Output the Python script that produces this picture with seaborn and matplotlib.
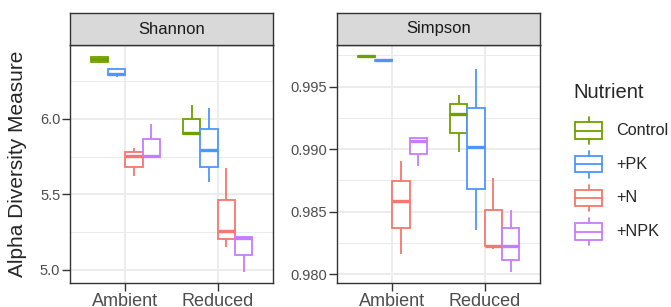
import numpy as np
import pandas as pd
import matplotlib
matplotlib.use("Agg")
import matplotlib.pyplot as plt
from matplotlib.patches import Rectangle
from matplotlib.ticker import MultipleLocator, FormatStrFormatter
import seaborn as sns

# --- data (five-number summaries) ---
nutrients = ["Control", "+PK", "+N", "+NPK"]
treatments = ["Ambient", "Reduced"]
measures = ["Shannon", "Simpson"]
colors = ["#70A000", "#4D96FF", "#F8766D", "#C77CFF"]

shannon_ambient = [
    [6.371, 6.378, 6.394, 6.409, 6.418],
    [6.276, 6.291, 6.300, 6.331, 6.338],
    [5.618, 5.683, 5.751, 5.780, 5.809],
    [5.745, 5.748, 5.756, 5.863, 5.965],
]
shannon_reduced = [
    [5.900, 5.902, 5.907, 6.000, 6.093],
    [5.582, 5.683, 5.793, 5.931, 6.071],
    [5.149, 5.205, 5.258, 5.465, 5.671],
    [4.983, 5.096, 5.213, 5.218, 5.220],
]
simpson_ambient = [
    [0.99739, 0.99741, 0.99743, 0.99745, 0.99747],
    [0.99706, 0.99709, 0.99711, 0.99713, 0.99716],
    [0.98160, 0.98367, 0.98585, 0.98744, 0.98904],
    [0.98862, 0.98962, 0.99069, 0.99090, 0.99092],
]
simpson_reduced = [
    [0.98978, 0.99127, 0.99281, 0.99361, 0.99436],
    [0.98356, 0.98681, 0.99021, 0.99329, 0.99644],
    [0.98202, 0.98222, 0.98228, 0.98511, 0.98771],
    [0.98016, 0.98117, 0.98223, 0.98367, 0.98511],
]

values = {
    ("Shannon", "Ambient"): shannon_ambient,
    ("Shannon", "Reduced"): shannon_reduced,
    ("Simpson", "Ambient"): simpson_ambient,
    ("Simpson", "Reduced"): simpson_reduced,
}
rows = []
for (m, t), groups in values.items():
    for nut, vals in zip(nutrients, groups):
        for v in vals:
            rows.append({"Measure": m, "Treatment": t, "Nutrient": nut, "value": v})
df = pd.DataFrame(rows)

# --- style ---
sns.set_style("white")
plt.rcParams["font.family"] = ["Liberation Sans", "DejaVu Sans"]

W, H = 671, 307
fig = plt.figure(figsize=(W / 100, H / 100), dpi=100)


def rect(l, t, r, b):
    return [l / W, 1 - b / H, (r - l) / W, (b - t) / H]


panels = [(70, 273), (337, 540)]
top, strip_top, bottom = 45, 13, 283
grid_col = "#EBEBEB"
dark = "#333333"

for measure, (l, r) in zip(measures, panels):
    ax = fig.add_axes(rect(l, top, r, bottom))
    sub = df[df["Measure"] == measure]
    sns.boxplot(data=sub, x="Treatment", y="value", hue="Nutrient",
                order=treatments, hue_order=nutrients, palette=colors,
                width=0.75, gap=0, linewidth=1.3, showcaps=False,
                medianprops={"linewidth": 2.4}, legend=False, ax=ax)
    for cont, c in zip(ax.containers, colors):
        for b in cont.boxes:
            b.set_facecolor("white")
            b.set_edgecolor(c)
        for ln in list(cont.medians) + list(cont.whiskers):
            ln.set_color(c)

    lo, hi = sub["value"].min(), sub["value"].max()
    pad = (hi - lo) * 0.05
    ax.set_ylim(lo - pad, hi + pad)
    ax.set_xlim(-0.6, 1.6)
    if measure == "Shannon":
        ax.yaxis.set_major_locator(MultipleLocator(0.5))
        ax.yaxis.set_minor_locator(MultipleLocator(0.25))
        ax.yaxis.set_major_formatter(FormatStrFormatter("%.1f"))
    else:
        ax.yaxis.set_major_locator(MultipleLocator(0.005))
        ax.yaxis.set_minor_locator(MultipleLocator(0.0025))
        ax.yaxis.set_major_formatter(FormatStrFormatter("%.3f"))

    ax.set_axisbelow(True)
    ax.grid(True, which="major", color=grid_col, linewidth=1.3)
    ax.grid(True, which="minor", axis="y", color=grid_col, linewidth=0.7)
    for s in ax.spines.values():
        s.set_color(dark)
        s.set_linewidth(1.0)
    ax.tick_params(axis="both", which="major", direction="out", length=5.5,
                   width=1.0, color=dark, pad=1.5, left=True, bottom=True)
    ax.tick_params(axis="y", which="minor", length=0)
    ax.tick_params(axis="y", labelsize=10.5, labelcolor="#4D4D4D")
    ax.tick_params(axis="x", labelsize=13, labelcolor="#4D4D4D")
    ax.set_xlabel("")
    ax.set_ylabel("")

    sax = fig.add_axes(rect(l, strip_top, r, top))
    sax.set_facecolor("#D9D9D9")
    sax.set_xticks([])
    sax.set_yticks([])
    for s in sax.spines.values():
        s.set_color(dark)
        s.set_linewidth(1.0)
    sax.text(0.5, 0.5, measure, ha="center", va="center", fontsize=12,
             color="#1A1A1A", transform=sax.transAxes)

fig.text(18 / W, 1 - ((top + bottom) / 2) / H, "Alpha Diversity Measure",
         rotation=90, ha="center", va="center", fontsize=15)

# legend drawn in a pixel-space overlay, glyphs mimic ggplot's boxplot key
lax = fig.add_axes([0, 0, 1, 1])
lax.set_xlim(0, W)
lax.set_ylim(H, 0)
lax.axis("off")
lax.patch.set_alpha(0)
lax.text(573, 93, "Nutrient", fontsize=14.5, ha="left", va="center")
key_x, key_w, key_y0, key_dy = 575, 27, 130.5, 33.7
for i, (n, c) in enumerate(zip(nutrients, colors)):
    yc = key_y0 + i * key_dy
    xm = key_x + key_w / 2
    lax.plot([xm, xm], [yc - 13.3, yc - 8.3], color=c, lw=1.3)
    lax.plot([xm, xm], [yc + 8.3, yc + 13.3], color=c, lw=1.3)
    lax.add_patch(Rectangle((key_x, yc - 8.3), key_w, 16.6, facecolor="white",
                            edgecolor=c, lw=1.3))
    lax.plot([key_x, key_x + key_w], [yc, yc], color=c, lw=1.3)
    lax.text(616, yc, n, fontsize=11.7, ha="left", va="center")

fig.savefig("out.png", dpi=100)
